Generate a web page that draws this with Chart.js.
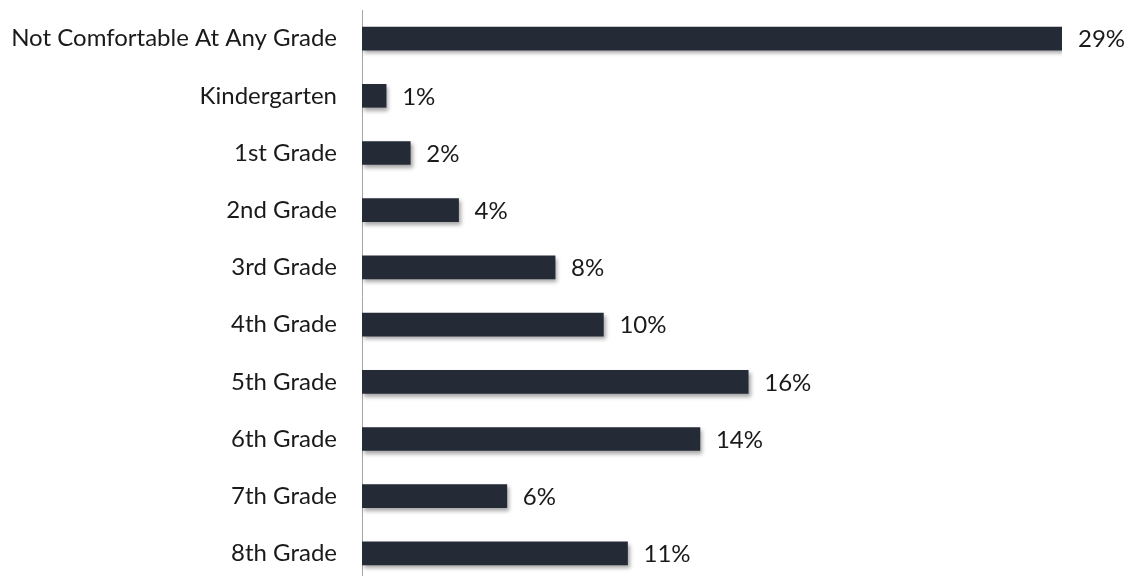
<!DOCTYPE html>
<html>
<head>
<meta charset="utf-8">
<script src="https://cdn.jsdelivr.net/npm/chart.js@4/dist/chart.umd.min.js"></script>
<style>
html,body{margin:0;padding:0;background:#fff;overflow:hidden;}
canvas{display:block;}
</style>
</head>
<body>
<canvas id="c" width="1129" height="582" style="width:1129px;height:582px;"></canvas>
<script>
const categories = ["Not Comfortable At Any Grade","Kindergarten","1st Grade","2nd Grade","3rd Grade","4th Grade","5th Grade","6th Grade","7th Grade","8th Grade"];
const values = [29,1,2,4,8,10,16,14,6,11];
const valueLabels = ["29%","1%","2%","4%","8%","10%","16%","14%","6%","11%"];

const FONT = "Lato, 'Open Sans', sans-serif";

const shadowPlugin = {
  id: 'shadow',
  beforeDatasetsDraw(chart) {
    const ctx = chart.ctx;
    ctx.save();
    ctx.shadowColor = 'rgba(0,0,0,0.35)';
    ctx.shadowBlur = 4;
    ctx.shadowOffsetX = 2;
    ctx.shadowOffsetY = 3;
  },
  afterDatasetsDraw(chart) {
    chart.ctx.restore();
    const ctx = chart.ctx;
    const meta = chart.getDatasetMeta(0);
    ctx.save();
    ctx.fillStyle = '#1a1a1a';
    ctx.font = "24px " + FONT;
    ctx.textAlign = 'left';
    ctx.textBaseline = 'middle';
    meta.data.forEach((bar, i) => {
      ctx.fillText(valueLabels[i], bar.x + 16, bar.y + 1);
    });
    ctx.restore();
  }
};

new Chart(document.getElementById('c'), {
  type: 'bar',
  data: {
    labels: categories,
    datasets: [{
      data: values,
      backgroundColor: '#242a36',
      borderWidth: 0,
      barThickness: 23
    }]
  },
  options: {
    indexAxis: 'y',
    responsive: false,
    maintainAspectRatio: false,
    animation: false,
    devicePixelRatio: 1,
    layout: { padding: { top: 10, right: 67, bottom: 0, left: 0 } },
    plugins: { legend: { display: false }, tooltip: { enabled: false } },
    scales: {
      x: {
        display: false,
        min: 0,
        max: 29
      },
      y: {
        afterFit(scale) {
          scale.width = 362;
          scale.paddingTop = 0;
          scale.paddingBottom = 0;
        },
        grid: { display: false, drawTicks: false },
        border: { display: true, color: '#a6a6a6', width: 1 },
        ticks: {
          color: '#1a1a1a',
          font: { size: 24, family: FONT },
          padding: 25
        }
      }
    }
  },
  plugins: [shadowPlugin]
});
</script>
</body>
</html>
